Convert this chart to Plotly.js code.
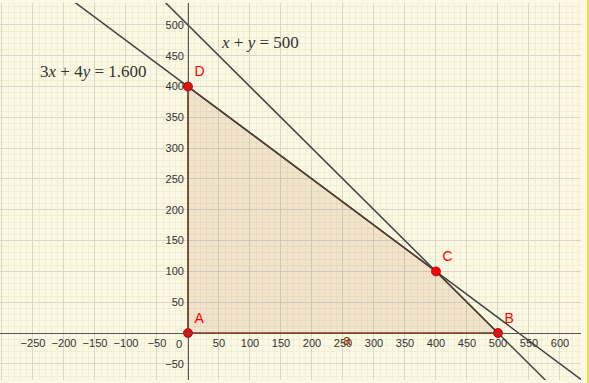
<!DOCTYPE html>
<html>
<head>
<meta charset="utf-8">
<script src="https://cdn.plot.ly/plotly-3.0.1.min.js"></script>
<style>html,body{margin:0;padding:0;background:#fcf9e2;}#chart{width:589px;height:383px;}</style>
</head>
<body>
<div id="chart"></div>
<script>
// ---- data ----
const xTicks = [-300,-250,-200,-150,-100,-50,0,50,100,150,200,250,300,350,400,450,500,550,600];
const xTickText = ['−300','−250','−200','−150','−100','−50','','50','100','150','200','250','300','350','400','450','500','550','600'];
const yTicks = [-50,0,50,100,150,200,250,300,350,400,450,500];
const yTickText = ['−50','','50','100','150','200','250','300','350','400','450','500'];

const polyX = [0, 500, 400, 0, 0];
const polyY = [0, 0, 100, 400, 0];

const pointNames = ['A','B','C','D'];
const pointX = [0, 500, 400, 0];
const pointY = [0, 0, 100, 400];

// 3x + 4y = 1600
const line1X = [-200, 700];
const line1Y = [550, -125];
// x + y = 500
const line2X = [-50, 650];
const line2Y = [550, -150];

const xRange = [-303.2, 633.9];
const yRange = [-76.3, 535.7];

// ---- chart ----
const brown = '#993300';
const traces = [
  {x: polyX, y: polyY, type:'scatter', mode:'lines', fill:'toself',
   fillcolor:'rgba(153,51,0,0.10)', line:{color:brown, width:1.6}, hoverinfo:'skip'},
  {x: line1X, y: line1Y, type:'scatter', mode:'lines', line:{color:'#444', width:1.5}, hoverinfo:'skip'},
  {x: line2X, y: line2Y, type:'scatter', mode:'lines', line:{color:'#444', width:1.5}, hoverinfo:'skip'},
  {x: pointX, y: pointY, type:'scatter', mode:'markers+text', text: pointNames,
   textposition:'top right', textfont:{family:'Liberation Sans, Arial, sans-serif', size:14, color:'#ff0000'},
   marker:{size:9, color:'#ff0000', line:{color:'#990000', width:0.8}}, cliponaxis:false, hoverinfo:'skip'},
  // invisible helper so the label-only y axis is drawn
  {x:[pointX[0]], y:[pointY[0]], yaxis:'y2', type:'scatter', mode:'markers', marker:{opacity:0}, hoverinfo:'skip'}
];

const yPos = (0 - yRange[0]) / (yRange[1] - yRange[0]);
const xPos = (0 - xRange[0]) / (xRange[1] - xRange[0]);
const plotW = 589 - 8;
const tickFont = {family:'Liberation Sans, Arial, sans-serif', size:11, color:'#333'};

const layout = {
  width:589, height:383,
  margin:{l:0, r:8, t:3, b:3},
  paper_bgcolor:'#fcf9e2', plot_bgcolor:'#fcf9e2',
  showlegend:false,
  xaxis:{range:xRange, tickmode:'array', tickvals:xTicks, ticktext:xTickText,
    showgrid:true, gridcolor:'#d9d7cd', gridwidth:1, zeroline:false,
    minor:{tickmode:'linear', tick0:0, dtick:10, showgrid:true, gridcolor:'#f1eed7', gridwidth:1},
    showline:true, linecolor:'#555', linewidth:1, anchor:'free', position:yPos,
    ticks:'', tickfont:tickFont, fixedrange:true},
  yaxis:{range:yRange, tickmode:'array', tickvals:yTicks,
    showgrid:true, gridcolor:'#d9d7cd', gridwidth:1, zeroline:false,
    minor:{tickmode:'linear', tick0:0, dtick:10, showgrid:true, gridcolor:'#f1eed7', gridwidth:1},
    showline:true, linecolor:'#555', linewidth:1, anchor:'free', position:xPos,
    ticks:'', showticklabels:false, fixedrange:true},
  yaxis2:{range:yRange, overlaying:'y', tickmode:'array', tickvals:yTicks, ticktext:yTickText,
    showgrid:false, zeroline:false, showline:false, anchor:'free', position:xPos - 4/plotW,
    side:'left', ticks:'', tickfont:tickFont, fixedrange:true},
  annotations:[
    {x:0, y:0, xref:'x', yref:'y', text:'0', showarrow:false, xanchor:'right', yanchor:'top',
     xshift:-4, yshift:-3, font:tickFont},
    {x:256, y:0, xref:'x', yref:'y', text:'a', showarrow:false, xanchor:'center', yanchor:'middle',
     yshift:-7, font:{family:'Liberation Sans, Arial, sans-serif', size:14, color:brown}},
    {x:-153, y:425, xref:'x', yref:'y', text:'3<i>x</i> + 4<i>y</i> = 1.600', showarrow:false,
     font:{family:'Liberation Serif, DejaVu Serif, serif', size:17, color:'#333'}},
    {x:116, y:471, xref:'x', yref:'y', text:'<i>x</i> + <i>y</i> = 500', showarrow:false,
     font:{family:'Liberation Serif, DejaVu Serif, serif', size:17, color:'#333'}}
  ],
  shapes:[
    {type:'rect', xref:'paper', yref:'paper', x0:1.0103, x1:1.02, y0:-0.01, y1:1.01,
     fillcolor:'#f2dc4a', line:{width:0}, layer:'above'}
  ]
};

Plotly.newPlot('chart', traces, layout, {displayModeBar:false, staticPlot:true});
</script>
</body>
</html>
